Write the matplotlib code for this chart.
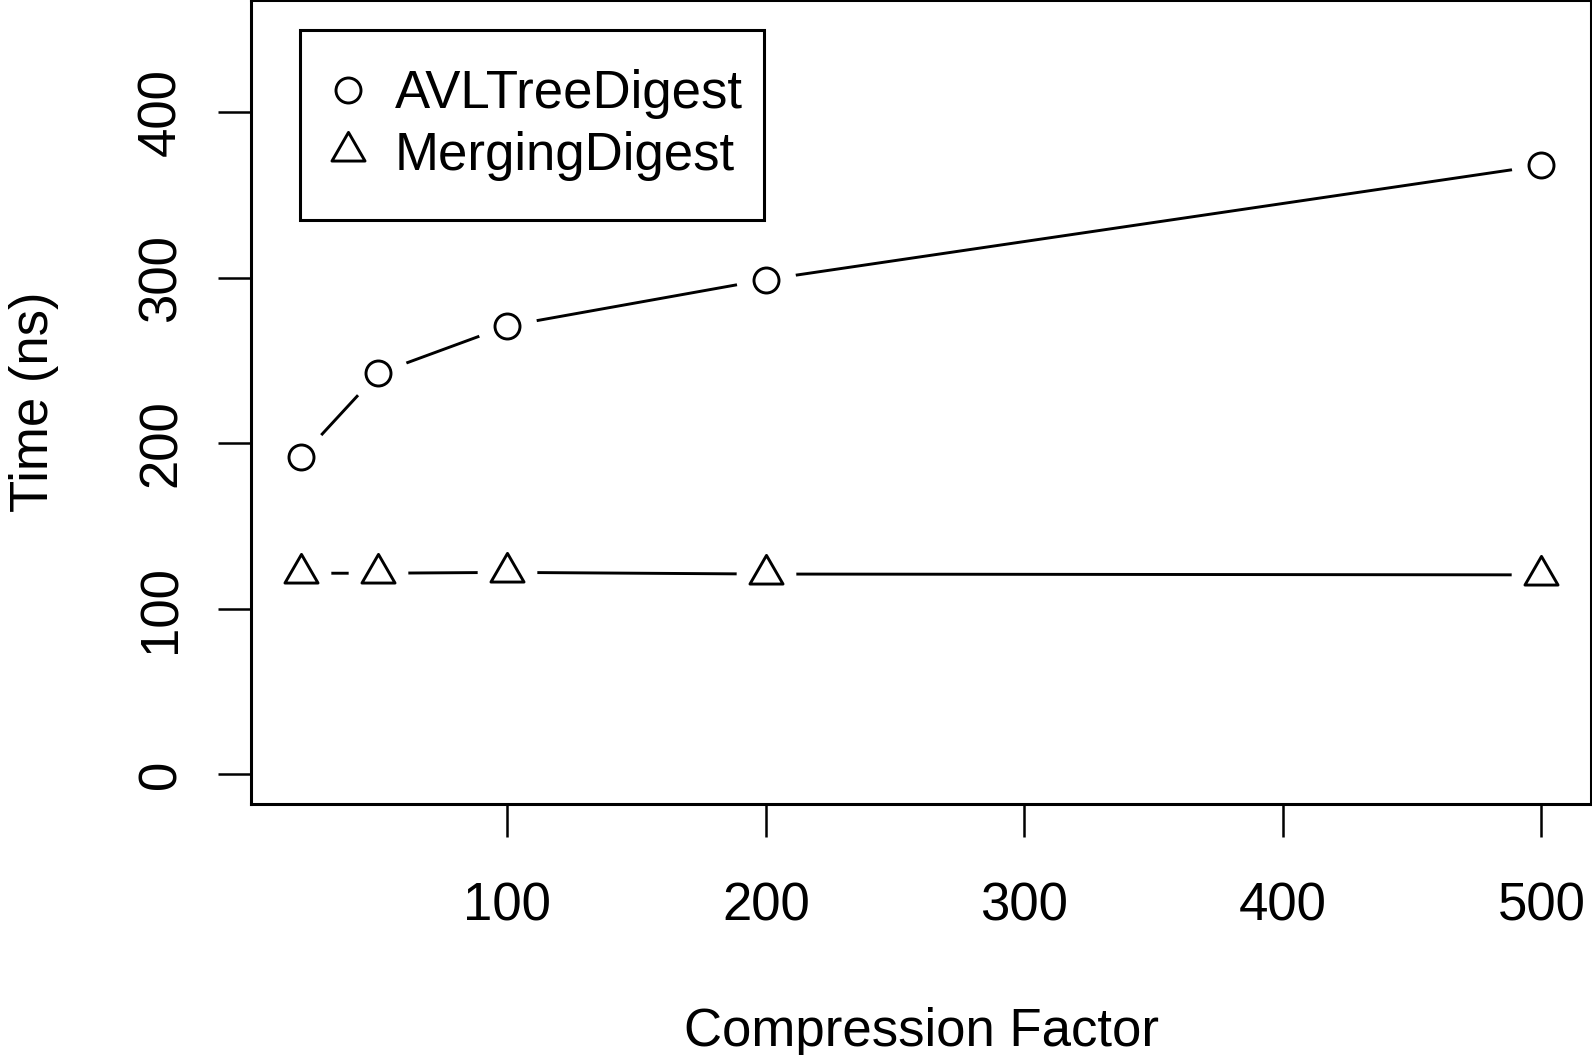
import matplotlib
matplotlib.use("Agg")
import matplotlib.pyplot as plt
from matplotlib.lines import Line2D
from matplotlib.path import Path

# data
compression = [20, 50, 100, 200, 500]
avl_tree = [191.5, 242.3, 271, 299, 368]
merging = [121.5, 121.5, 122, 121, 120.5]
series_names = ["AVLTreeDigest", "MergingDigest"]
x_ticks = [100, 200, 300, 400, 500]
y_ticks = [0, 100, 200, 300, 400]
y_range = [0, 450]

plt.rcParams['font.family'] = ['Liberation Sans', 'DejaVu Sans']
FS = 38

# R-like pch=2 triangle, centred on its centroid
tri = Path([(0, 1.5551), (1.3468, -0.7776), (-1.3468, -0.7776), (0, 0)], closed=True)

W, H = 1592, 1055
fig = plt.figure(figsize=(W / 100, H / 100), dpi=100)
ax = fig.add_axes([251 / W, 1 - 804 / H, (1591 - 251) / W, 804 / H])

#lines first, then white blobs to leave gaps like R type="b", then markers
for ys, mk, ms in [(avl_tree, 'o', 18), (merging, tri, 27.5)]:
    ax.plot(compression, ys, color='black', lw=2.1, zorder=2, solid_capstyle='butt')
    ax.plot(compression, ys, ls='none', marker='o', ms=43, mfc='white', mec='none', zorder=3)
    ax.plot(compression, ys, ls='none', marker=mk, ms=ms, mfc='none', mec='black', mew=2.1, zorder=4)

# R default 4% axis padding
dx = (max(compression) - min(compression)) * 0.04
dy = (y_range[1] - y_range[0]) * 0.04
ax.set_xlim(min(compression) - dx, max(compression) + dx)
ax.set_ylim(y_range[0] - dy, y_range[1] + dy)

ax.set_xticks(x_ticks)
ax.set_yticks(y_ticks)
ax.tick_params(direction='out', length=23.5, width=1.8, labelsize=FS, color='black')
ax.tick_params(axis='x', pad=32)
ax.tick_params(axis='y', pad=23, labelrotation=90)
for lab in ax.get_yticklabels():
    lab.set_va('center')

for sp in ax.spines.values():
    sp.set_linewidth(2.2)

ax.set_xlabel("Compression Factor", fontsize=FS, va='baseline')
ax.xaxis.set_label_coords(0.5, (804 - 1046) / 804)
ax.set_ylabel("Time (ns)", fontsize=FS, va='baseline', rotation_mode='anchor')
ax.yaxis.set_label_coords((48 - 251) / 1340, 0.5)

handles = [
    Line2D([], [], ls='none', marker='o', ms=18, mfc='none', mec='black', mew=2.1),
    Line2D([], [], ls='none', marker=tri, ms=27.5, mfc='none', mec='black', mew=2.1),
]
x0 = (300 - 251) / 1340
w = (763.5 - 300) / 1340
ytop = 1 - 29.5 / 804
leg = ax.legend(handles, series_names, loc='upper left', bbox_to_anchor=(x0, ytop - 0.3, w, 0.3),
                mode='expand', borderaxespad=0, fontsize=FS, fancybox=False, edgecolor='black',
                framealpha=1, borderpad=0.75, handlelength=0.31, handletextpad=0.74, labelspacing=0.22)
leg.get_frame().set_linewidth(2.2)

fig.savefig("out.png", dpi=100)
